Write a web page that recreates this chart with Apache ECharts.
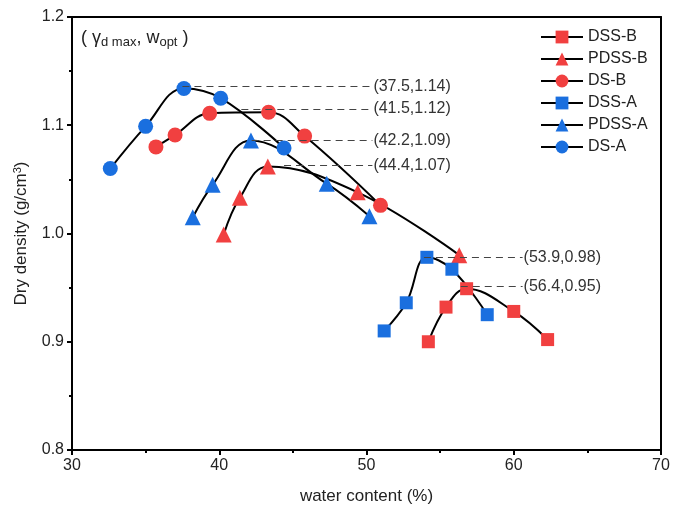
<!DOCTYPE html>
<html>
<head>
<meta charset="utf-8">
<script src="https://cdn.jsdelivr.net/npm/echarts@6/dist/echarts.min.js"></script>
<style>html,body{margin:0;padding:0;background:#fff}#c{width:674px;height:515px}</style>
</head>
<body>
<div id="c"></div>
<script>
// ---- data ----
const seriesNames = ['DSS-B', 'PDSS-B', 'DS-B', 'DSS-A', 'PDSS-A', 'DS-A'];
const dssB_w   = [54.2, 55.4, 56.8, 60.0, 62.3];
const dssB_rho = [0.900, 0.932, 0.949, 0.928, 0.902];
const pdssB_w   = [40.3, 41.4, 43.3, 49.4, 56.3];
const pdssB_rho = [0.999, 1.033, 1.062, 1.038, 0.980];
const dsB_w   = [35.7, 37.0, 39.35, 43.35, 45.8, 50.95];
const dsB_rho = [1.080, 1.091, 1.111, 1.112, 1.090, 1.026];
const dssA_w   = [51.2, 52.7, 54.1, 55.8, 58.2];
const dssA_rho = [0.910, 0.936, 0.978, 0.967, 0.925];
const pdssA_w   = [38.2, 39.55, 42.15, 47.3, 50.2];
const pdssA_rho = [1.015, 1.045, 1.086, 1.046, 1.016];
const dsA_w   = [32.6, 35.0, 37.6, 40.1, 44.4];
const dsA_rho = [1.060, 1.099, 1.134, 1.125, 1.079];
// optimum points (annotations)
const peakW     = [37.5, 41.5, 42.2, 44.4, 53.9, 56.4];
const peakRho   = [1.136, 1.115, 1.086, 1.063, 0.978, 0.951];
const peakLabel = ['(37.5,1.14)', '(41.5,1.12)', '(42.2,1.09)', '(44.4,1.07)', '(53.9,0.98)', '(56.4,0.95)'];
const peakEndW  = [50.4, 50.4, 50.4, 50.4, 60.6, 60.6];
const xTicks = [30, 40, 50, 60, 70];
const yTicks = [0.8, 0.9, 1.0, 1.1, 1.2];

const RED = '#F14040', BLUE = '#1A6FDF';
const FONT = '"Liberation Sans", Arial, sans-serif';

function zip(a, b) { return a.map((v, i) => [v, b[i]]); }

const seriesDefs = [
  { name: 'DSS-B', data: zip(dssB_w, dssB_rho), color: RED, symbol: 'rect', size: 13 },
  { name: 'PDSS-B', data: zip(pdssB_w, pdssB_rho), color: RED, symbol: 'triangle', size: 16 },
  { name: 'DS-B', data: zip(dsB_w, dsB_rho), color: RED, symbol: 'circle', size: 15 },
  { name: 'DSS-A', data: zip(dssA_w, dssA_rho), color: BLUE, symbol: 'rect', size: 13 },
  { name: 'PDSS-A', data: zip(pdssA_w, pdssA_rho), color: BLUE, symbol: 'triangle', size: 16 },
  { name: 'DS-A', data: zip(dsA_w, dsA_rho), color: BLUE, symbol: 'circle', size: 15 }
];

const series = seriesDefs.map(d => ({
  name: d.name,
  type: 'line',
  data: d.data,
  smooth: 0.4,
  symbol: d.symbol,
  symbolSize: d.size,
  showAllSymbol: true,
  lineStyle: { color: '#000', width: 2 },
  itemStyle: { color: d.color, borderWidth: 0 },
  z: 3
}));

// dashed annotation lines
series.push({
  name: '_peaks',
  type: 'line',
  data: [],
  silent: true,
  z: 2,
  markLine: {
    silent: true,
    symbol: ['none', 'none'],
    lineStyle: { color: '#444', type: [7, 5], width: 1.2 },
    label: {
      show: true, position: 'end', distance: 1,
      fontFamily: FONT, fontSize: 16, color: '#333'
    },
    data: peakW.map((w, i) => [
      { coord: [w, peakRho[i]] },
      { coord: [peakEndW[i], peakRho[i]], label: { formatter: peakLabel[i] } }
    ])
  }
});

const axisLineStyle = { color: '#000', width: 2 };
const chart = echarts.init(document.getElementById('c'), null, { renderer: 'canvas' });
chart.setOption({
  animation: false,
  backgroundColor: '#fff',
  grid: { left: 72, right: 13, top: 17, bottom: 65, containLabel: false },
  legend: {
    data: seriesNames,
    orient: 'vertical',
    left: 535, top: 24,
    itemWidth: 42, itemHeight: 16, itemGap: 6,
    textStyle: { fontFamily: FONT, fontSize: 16, color: '#222' },
    itemStyle: { borderWidth: 0 }
  },
  xAxis: [{
    type: 'value', min: xTicks[0], max: xTicks[xTicks.length - 1], interval: 10,
    name: 'water content (%)', nameLocation: 'middle', nameGap: 38,
    nameTextStyle: { fontFamily: FONT, fontSize: 17, color: '#222' },
    axisLine: { show: true, onZero: false, lineStyle: axisLineStyle },
    axisTick: { show: true, inside: false, length: 5, lineStyle: axisLineStyle },
    axisLabel: { fontFamily: FONT, fontSize: 16, color: '#222', margin: 8 },
    splitLine: { show: false }
  }, {
    type: 'value', position: 'top', min: xTicks[0], max: xTicks[xTicks.length - 1],
    axisLine: { show: true, onZero: false, lineStyle: axisLineStyle },
    axisTick: { show: false }, axisLabel: { show: false }, splitLine: { show: false }
  }, {
    // minor ticks (outward)
    type: 'value', position: 'bottom', min: xTicks[0], max: xTicks[xTicks.length - 1], interval: 5,
    axisLine: { show: false, onZero: false },
    axisTick: { show: true, inside: false, length: 3, lineStyle: axisLineStyle },
    axisLabel: { show: false }, splitLine: { show: false }
  }],
  yAxis: [{
    type: 'value', min: yTicks[0], max: yTicks[yTicks.length - 1], interval: 0.1,
    name: 'Dry density (g/cm{sup|3})', nameLocation: 'middle', nameGap: 41,
    nameTextStyle: {
      fontFamily: FONT, fontSize: 17, color: '#222',
      rich: { sup: { fontFamily: FONT, fontSize: 11, color: '#222', verticalAlign: 'bottom', padding: [0, 0, 8, 0] } }
    },
    axisLine: { show: true, onZero: false, lineStyle: axisLineStyle },
    axisTick: { show: true, inside: false, length: 5, lineStyle: axisLineStyle },
    axisLabel: { fontFamily: FONT, fontSize: 16, color: '#222', margin: 8, formatter: v => v.toFixed(1) },
    splitLine: { show: false }
  }, {
    type: 'value', position: 'right', min: yTicks[0], max: yTicks[yTicks.length - 1],
    axisLine: { show: true, onZero: false, lineStyle: axisLineStyle },
    axisTick: { show: false }, axisLabel: { show: false }, splitLine: { show: false }
  }, {
    // minor ticks (outward)
    type: 'value', position: 'left', min: yTicks[0], max: yTicks[yTicks.length - 1], interval: 0.05,
    axisLine: { show: false, onZero: false },
    axisTick: { show: true, inside: false, length: 3, lineStyle: axisLineStyle },
    axisLabel: { show: false }, splitLine: { show: false }
  }],
  graphic: [{
    type: 'text', left: 81, top: 29,
    style: {
      text: '( {g|γ}{sub|d max}, w{sub|opt} )',
      fontFamily: FONT, fontSize: 18, fill: '#222',
      rich: {
        g: { fontFamily: FONT, fontSize: 18, fill: '#222' },
        sub: { fontFamily: FONT, fontSize: 13, fill: '#222', verticalAlign: 'top', padding: [9, 0, 0, 0] }
      }
    }
  }],
  series: series
});
</script>
</body>
</html>
